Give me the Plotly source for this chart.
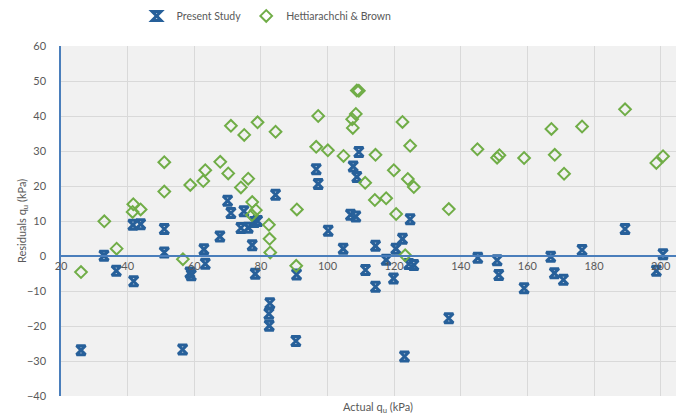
import plotly.graph_objects as go

# Present Study (Actual qu kPa, Residual kPa)
present_x = [26.0, 32.9, 36.6, 41.6, 43.9, 41.8, 51.0, 51.0, 56.5, 58.7, 59.1, 62.9, 63.3, 67.7,
             70.0, 71.0, 74.0, 74.9, 76.2, 77.4, 78.0, 79.0, 78.3, 84.4, 82.7, 82.4, 82.5, 90.5,
             90.7, 96.6, 97.2, 100.2, 104.7, 106.9, 108.5, 107.7, 108.8, 109.4, 111.4, 114.4,
             114.4, 117.6, 119.8, 120.5, 122.5, 123.1, 124.4, 124.8, 125.9, 136.4, 145.1, 150.9,
             151.4, 159.0, 167.0, 168.1, 170.8, 176.4, 189.3, 198.7, 200.7]
present_y = [-26.9, 0.1, -4.2, 8.9, 9.1, -7.2, 7.7, 1.0, -26.7, -4.7, -5.5, 1.9, -2.2, 5.6,
             15.8, 12.3, 8.0, 12.8, 8.1, 3.1, 9.7, 10.0, -5.1, 17.5, -13.5, -16.5, -19.9, -24.3,
             -5.3, 24.8, 20.6, 7.2, 2.1, 11.8, 11.3, 25.6, 22.6, 29.7, -4.0, 2.9,
             -8.8, -1.1, -6.4, 2.1, 4.9, -28.7, -2.3, 10.5, -2.6, -17.8, -0.5, -1.2,
             -5.4, -9.2, -0.2, -4.9, -6.8, 1.7, 7.7, -4.2, 0.5]

# Hettiarachchi & Brown
hb_x = [26.0, 33.0, 36.7, 41.7, 41.5, 43.9, 51.0, 51.0, 56.6, 58.8, 62.7, 63.3, 67.8, 70.2,
        71.0, 74.0, 75.0, 76.2, 77.4, 77.3, 78.5, 79.0, 82.4, 82.6, 82.8, 84.4, 90.6, 90.8,
        96.6, 97.2, 100.1, 104.8, 107.4, 107.6, 108.5, 108.8, 109.4, 111.3, 114.2, 114.4,
        117.6, 119.9, 120.6, 122.5, 123.3, 124.1, 124.8, 125.9, 136.4, 145.0, 150.9, 151.6,
        159.0, 167.2, 168.2, 171.0, 176.4, 189.3, 198.7, 200.7]
hb_y = [-4.6, 9.9, 2.1, 14.8, 12.6, 13.3, 26.8, 18.4, -0.9, 20.3, 21.4, 24.5, 26.9, 23.6,
        37.2, 19.6, 34.6, 22.1, 15.4, 11.7, 13.1, 38.2, 8.9, 4.9, 1.0, 35.5, -2.8, 13.3,
        31.2, 40.0, 30.2, 28.6, 39.1, 36.6, 40.6, 47.3, 47.2, 20.9, 16.0, 28.9,
        16.5, 24.5, 12.0, 38.3, 0.2, 22.0, 31.5, 19.7, 13.4, 30.5, 28.1, 28.8,
        28.0, 36.3, 28.9, 23.5, 37.0, 41.9, 26.6, 28.5]

x_ticks = [20, 40, 60, 80, 100, 120, 140, 160, 180, 200]
y_ticks = [-40, -30, -20, -10, 0, 10, 20, 30, 40, 50, 60]

BLUE = "#27609A"
GREEN = "#70AD47"
AXIS_BLUE = "#4A7EBB"
GRID = "#d9d9d9"
TXT = "#595959"
FONT = "Lato"

fig = go.Figure()
fig.add_trace(go.Scatter(
    x=present_x, y=present_y, mode="markers", name="Present Study",
    marker=dict(symbol="hourglass-open", size=9, color=BLUE, line=dict(color=BLUE, width=3)),
))
fig.add_trace(go.Scatter(
    x=hb_x, y=hb_y, mode="markers", name="Hettiarachchi & Brown",
    marker=dict(symbol="diamond-open", size=9, color=GREEN, line=dict(color=GREEN, width=2)),
))

# page body has an 8px margin, so the figure is sized to fill the rest of the window
fig.update_layout(
    width=676, height=408,
    margin=dict(l=53, r=0, t=38, b=20, autoexpand=False),
    paper_bgcolor="white",
    plot_bgcolor="#f1f1f1",
    font=dict(family=FONT, color=TXT, size=11),
    showlegend=True,
    legend=dict(orientation="h", x=0.33, xanchor="center", y=1.086, yanchor="middle",
                font=dict(size=10.5, color=TXT), itemwidth=30, tracegroupgap=0,
                bgcolor="rgba(0,0,0,0)"),
    xaxis=dict(range=[20, 207], tickmode="array", tickvals=x_ticks,
               ticktext=[str(v) for v in x_ticks],
               showgrid=True, gridcolor=GRID, gridwidth=1.2,
               anchor="free", position=0.4,
               showline=True, linecolor=AXIS_BLUE, linewidth=1.5,
               zeroline=False, ticks="", tickfont=dict(size=11, color=TXT)),
    yaxis=dict(range=[-40, 60], tickmode="array", tickvals=y_ticks,
               showgrid=True, gridcolor=GRID, gridwidth=1.2,
               showline=True, linecolor=AXIS_BLUE, linewidth=1.5,
               zeroline=False, ticks="", ticklabelstandoff=11,
               tickfont=dict(size=11, color=TXT)),
    annotations=[
        dict(text="Actual q<sub>u</sub> (kPa)", xref="paper", yref="paper",
             x=0.5, y=0, yshift=-11, xshift=5, xanchor="center", yanchor="middle",
             showarrow=False, font=dict(size=11, color=TXT)),
        dict(text="Residuals q<sub>u</sub> (kPa)", xref="paper", yref="paper",
             x=0, y=0.5, xshift=-39, xanchor="center", yanchor="middle",
             textangle=-90, showarrow=False, font=dict(size=11, color=TXT)),
    ],
)

fig.write_html("out.html")
